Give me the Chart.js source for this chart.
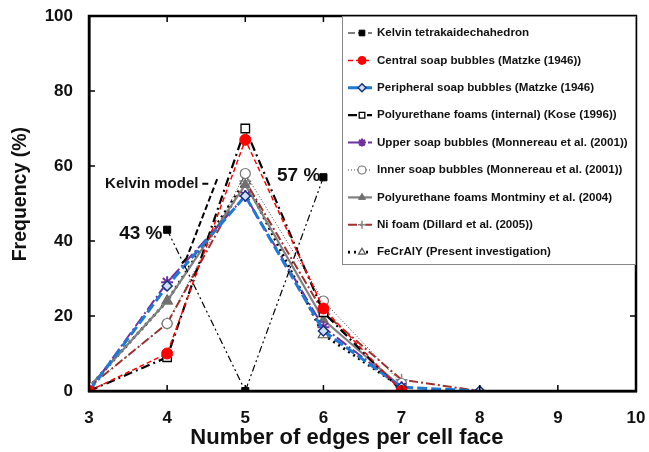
<!DOCTYPE html>
<html>
<head>
<meta charset="utf-8">
<script src="https://cdn.jsdelivr.net/npm/chart.js@4.4.1/dist/chart.umd.min.js"></script>
<style>
  html, body { margin:0; padding:0; background:#fff; }
  #wrap { width:649px; height:452px; }
</style>
</head>
<body>
<div id="wrap"><canvas id="chart" width="649" height="452"></canvas></div>
<script>
/* Face-edge distribution: frequency (%) vs number of edges per cell face */

const edges = [3, 4, 5, 6, 7, 8];

const kelvin      = [null, 43, 0, 57, null, null];
const centralSoap = [0, 10, 67, 22, 0, null];
const periphSoap  = [0, 28, 52, 16, 1, 0];
const puKose      = [0, 9, 70, 21, 0, null];
const upperSoap   = [0, 29, 52, 17, 1, null];
const innerSoap   = [1, 18, 58, 24, 2, null];
const puMontminy  = [1, 24, 55, 19, 1, null];
const niFoam      = [1, 18, 56, 21, 3, 0];
const fecraly     = [1, 24, 56, 15, 1, null];

const labels = [
  'Kelvin tetrakaidechahedron',
  'Central soap bubbles (Matzke (1946))',
  'Peripheral soap bubbles (Matzke (1946)',
  'Polyurethane foams (internal) (Kose (1996))',
  'Upper soap bubbles (Monnereau et al. (2001))',
  'Inner soap bubbles (Monnereau et al. (2001))',
  'Polyurethane foams Montminy et al. (2004)',
  'Ni foam (Dillard et al. (2005))',
  'FeCrAlY (Present investigation)'
];

const xTicks = [3, 4, 5, 6, 7, 8, 9, 10];
const yTicks = [0, 20, 40, 60, 80, 100];
const xTitle = 'Number of edges per cell face';
const yTitle = 'Frequency (%)';

const FONT = '"Liberation Sans", Arial, sans-serif';

function pts(vals) {
  return edges.map((x, i) => ({ x, y: vals[i] })).filter(p => p.y !== null);
}

// line + marker styles per series
const STYLES = [
  { color:'#000000', width:1.2, dash:[7,3,2,3,2,3], ps:'rect',     r:5,   bg:'#000000', bc:'#000000', bw:1 },
  { color:'#ff0000', width:1.5, dash:[5,3],         ps:'circle',   r:5.5, bg:'#ff0000', bc:'#ff0000', bw:1 },
  { color:'#1f7ad6', width:3,   dash:[10,4],        ps:'rectRot',  r:5,   bg:'#cfe0f5', bc:'#1a2f7a', bw:1.5 },
  { color:'#000000', width:2.2, dash:[9,4,2,4],     ps:'rect',     r:6,   bg:'#ffffff', bc:'#000000', bw:1.3 },
  { color:'#7030a0', width:2,   dash:[12,3,2,3],    ps:'star',     r:6,   bg:'#7030a0', bc:'#7030a0', bw:2 },
  { color:'#444444', width:1,   dash:[1,2],         ps:'circle',   r:5,   bg:'#ffffff', bc:'#777777', bw:1.2 },
  { color:'#808080', width:2.2, dash:[],            ps:'triangle', r:5.5, bg:'#707070', bc:'#707070', bw:1 },
  { color:'#a0322c', width:2,   dash:[9,3,2,3],     ps:'crossRot', r:0,   bg:'#ffffff', bc:'#888888', bw:1.5, cross:true },
  { color:'#000000', width:2.8, dash:[2,4],         ps:'triangle', r:6,   bg:'#ffffff', bc:'#555555', bw:1.2 }
];

const seriesVals = [kelvin, centralSoap, periphSoap, puKose, upperSoap, innerSoap, puMontminy, niFoam, fecraly];

const datasets = seriesVals.map((v, i) => {
  const s = STYLES[i];
  return {
    label: labels[i],
    data: pts(v),
    borderColor: s.color,
    borderWidth: s.width,
    borderDash: s.dash,
    pointStyle: s.cross ? 'cross' : s.ps,
    pointRadius: s.cross ? 6 : s.r,
    pointBackgroundColor: s.bg,
    pointBorderColor: s.bc,
    pointBorderWidth: s.bw,
    tension: 0,
    fill: false
  };
});

// frame + inward ticks on all four sides, plus the axis titles
const framePlugin = {
  id: 'frame',
  afterDraw(chart) {
    const { ctx, chartArea: a, scales } = chart;
    ctx.save();
    ctx.strokeStyle = '#000';
    ctx.lineWidth = 1.5;
    const L = 6;
    scales.x.ticks.forEach(t => {
      const px = scales.x.getPixelForValue(t.value);
      ctx.beginPath();
      ctx.moveTo(px, a.bottom); ctx.lineTo(px, a.bottom - L);
      ctx.moveTo(px, a.top);    ctx.lineTo(px, a.top + L);
      ctx.stroke();
    });
    scales.y.ticks.forEach(t => {
      const py = scales.y.getPixelForValue(t.value);
      ctx.beginPath();
      ctx.moveTo(a.left, py);  ctx.lineTo(a.left + L, py);
      ctx.moveTo(a.right, py); ctx.lineTo(a.right - L, py);
      ctx.stroke();
    });
    ctx.lineWidth = 2.5;
    ctx.strokeRect(a.left, a.top, a.right - a.left, a.bottom - a.top);

    ctx.fillStyle = '#111';
    ctx.textAlign = 'center';
    ctx.textBaseline = 'middle';
    ctx.font = 'bold 22px ' + FONT;
    ctx.fillText(xTitle, scales.x.getPixelForValue(6.3), a.bottom + 47);
    ctx.font = 'bold 19.5px ' + FONT;
    ctx.translate(21, scales.y.getPixelForValue(52.5));
    ctx.rotate(-Math.PI / 2);
    ctx.fillText(yTitle, 0, 0);
    ctx.restore();
  }
};

// annotations placed in data units
const notePlugin = {
  id: 'notes',
  afterDatasetsDraw(chart) {
    const { ctx, scales: { x, y } } = chart;
    ctx.save();
    ctx.fillStyle = '#111';
    ctx.textBaseline = 'middle';
    ctx.textAlign = 'right';
    ctx.font = 'bold 15px ' + FONT;
    ctx.fillText('Kelvin model', x.getPixelForValue(4.4), y.getPixelForValue(55.3));
    ctx.font = 'bold 19px ' + FONT;
    ctx.fillText('43 %', x.getPixelForValue(3.94), y.getPixelForValue(42));
    ctx.fillText('57 %', x.getPixelForValue(5.96), y.getPixelForValue(57.3));

    // dashed pointer from the label
    ctx.strokeStyle = '#000';
    ctx.lineWidth = 2;
    ctx.setLineDash([6, 3]);
    ctx.beginPath();
    ctx.moveTo(x.getPixelForValue(4.45), y.getPixelForValue(55.3));
    ctx.lineTo(x.getPixelForValue(4.56), y.getPixelForValue(55.3));
    ctx.moveTo(x.getPixelForValue(4.64), y.getPixelForValue(56.5));
    ctx.lineTo(x.getPixelForValue(4.25), y.getPixelForValue(35.5));
    ctx.stroke();
    ctx.setLineDash([]);
    ctx.beginPath();
    ctx.moveTo(x.getPixelForValue(4.25), y.getPixelForValue(35.5));
    ctx.lineTo(x.getPixelForValue(4.19), y.getPixelForValue(34));
    ctx.stroke();
    ctx.restore();
  }
};

// boxed legend in the upper right of the plot
const legendPlugin = {
  id: 'boxLegend',
  afterDraw(chart) {
    const { ctx, chartArea: a } = chart;
    const w = 294, rowH = 27.4, h = 249;
    const left = a.right - w, top = a.top;
    ctx.save();
    ctx.fillStyle = '#fff';
    ctx.fillRect(left, top, w, h);
    ctx.strokeStyle = '#888';
    ctx.lineWidth = 1;
    ctx.strokeRect(left + 0.5, top + 0.5, w - 1, h - 1);

    chart.data.datasets.forEach((ds, i) => {
      const cy = top + 17 + i * rowH;
      const x0 = left + 6, x1 = left + 30;
      ctx.strokeStyle = ds.borderColor;
      ctx.lineWidth = ds.borderWidth;
      ctx.setLineDash(ds.borderDash || []);
      ctx.beginPath();
      ctx.moveTo(x0, cy); ctx.lineTo(x1, cy);
      ctx.stroke();
      ctx.setLineDash([]);
      ctx.fillStyle = ds.pointBackgroundColor;
      ctx.strokeStyle = ds.pointBorderColor;
      ctx.lineWidth = ds.pointBorderWidth;
      Chart.helpers.drawPoint(ctx, { pointStyle: ds.pointStyle, radius: 4, borderWidth: ds.pointBorderWidth }, (x0 + x1) / 2 + 2, cy);
      ctx.fillStyle = '#111';
      ctx.font = 'bold 11.6px ' + FONT;
      ctx.textBaseline = 'middle';
      ctx.textAlign = 'left';
      ctx.fillText(ds.label, left + 35, cy);
    });
    ctx.restore();
  }
};

new Chart(document.getElementById('chart').getContext('2d'), {
  type: 'line',
  data: { datasets },
  options: {
    responsive: false,
    animation: false,
    layout: { padding: { top: 16, right: 13, left: 0, bottom: 0 } },
    plugins: {
      legend: { display: false },
      tooltip: { enabled: false }
    },
    scales: {
      x: {
        type: 'linear', min: 3, max: 10,
        afterBuildTicks: s => { s.ticks = xTicks.map(v => ({ value: v })); },
        afterFit: s => { s.height = 61; s.paddingLeft = 0; s.paddingRight = 0; },
        grid: { display: false },
        border: { display: true, color: '#000', width: 2.5 },
        ticks: { color: '#111', padding: 9, font: { family: FONT, size: 17, weight: 'bold' } },
        title: { display: false }
      },
      y: {
        min: 0, max: 100,
        afterBuildTicks: s => { s.ticks = yTicks.map(v => ({ value: v })); },
        afterFit: s => { s.width = 89; s.paddingTop = 0; s.paddingBottom = 0; },
        grid: { display: false },
        border: { display: true, color: '#000', width: 2.5 },
        ticks: { color: '#111', padding: 8, font: { family: FONT, size: 17, weight: 'bold' } },
        title: { display: false }
      }
    }
  },
  plugins: [framePlugin, notePlugin, legendPlugin]
});
</script>
</body>
</html>
